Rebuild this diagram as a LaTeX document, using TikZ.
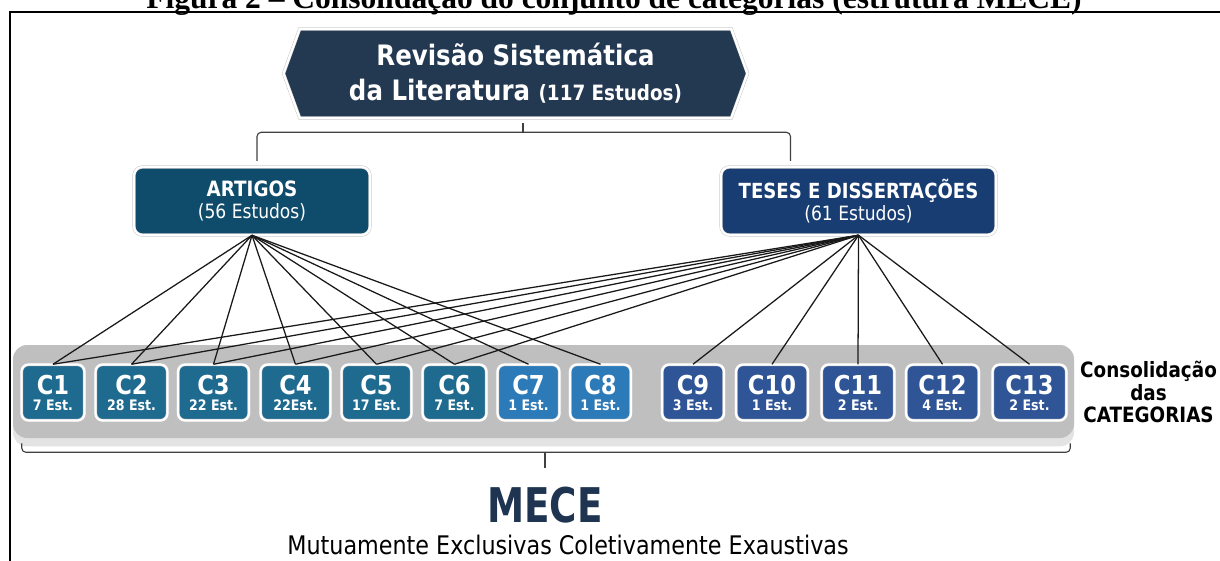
\documentclass[tikz,border=0pt]{standalone}
\usepackage{fontspec}
\setmainfont{DejaVu Sans}[FakeStretch=0.87]
\newfontfamily\mecefont{DejaVu Sans}[FakeStretch=0.78]
\newfontfamily\figfont{Liberation Serif}
\usepackage{tikz}
\usetikzlibrary{shapes.symbols}
\usetikzlibrary{shadows}
\usetikzlibrary{calc}

\definecolor{rslblue}{HTML}{233851}
\definecolor{artblue}{HTML}{0F4B6B}
\definecolor{tesblue}{HTML}{183D73}
\definecolor{cteal}{HTML}{1F6A8F}
\definecolor{clight}{HTML}{2D7AB8}
\definecolor{cblue}{HTML}{2F5596}
\definecolor{panelgray}{HTML}{BFBFBF}
\definecolor{mecenavy}{HTML}{1E3450}

\newcommand{\pix}{0.025cm}
\newcommand{\catlabel}[1]{{\fontsize{18.5}{11.4}\selectfont #1}}

\tikzset{
  boxbase/.style={draw=black!22, line width=0.35pt, double=white, double distance=1.6pt,
    text=white, align=center, inner sep=0pt,
    drop shadow={shadow xshift=0.5pt, shadow yshift=-0.8pt, opacity=0.35}},
  rslbox/.style={boxbase, shape=signal, signal to=west and east, signal pointer angle=140,
    fill=rslblue, font=\bfseries\fontsize{20}{25}\selectfont},
  groupbox/.style={boxbase, rounded corners=6pt, font=\fontsize{14}{15.6}\selectfont},
  catbox/.style={boxbase, rounded corners=5pt, minimum height=56*\pix,
    font=\bfseries\fontsize{10.3}{11.4}\selectfont},
  panel/.style={fill=panelgray, rounded corners=10pt,
    drop shadow={shadow xshift=0pt, shadow yshift=-6pt, opacity=0.22}},
  link/.style={draw=black!90, line width=0.9pt},
  brace/.style={draw=black!75, line width=0.8pt, rounded corners=3pt}
}

\begin{document}
\begin{tikzpicture}[x=\pix, y=-\pix]
  \useasboundingbox (0,0) rectangle (1220,560);
  \clip (0,0) rectangle (1220,560);
  % Frame, boxes and links:
  \node[font=\figfont\bfseries\fontsize{22.4}{24}\selectfont, anchor=base] (fig) at (614,8) {Figura 2 – Consolidação do conjunto de categorias (estrutura MECE)};
  \draw[line width=1.4pt] (10,600) -- (10,12) -- (1240,12);
  \node[panel, minimum width=1061*\pix, minimum height=93*\pix] (painel) at (543.5,391.5) {};
  \foreach \i/\cx/\w/\n/\col in {1/53/66/7 Est./cteal, 2/131.5/75/28 Est./cteal, 3/213.5/74/22 Est./cteal,
      4/295.5/73/22Est./cteal, 5/376.5/73/17 Est./cteal, 6/454.5/67/7 Est./cteal,
      7/528.5/65/1 Est./clight, 8/600.5/64/1 Est./clight, 9/693/65/3 Est./cblue,
      10/772/75/1 Est./cblue, 11/858/76/2 Est./cblue, 12/942.5/76/4 Est./cblue, 13/1029.5/77/2 Est./cblue}
    \node[catbox, fill=\col, minimum width=\w*\pix-3*\pix] (c\i) at (\cx,392.5) {\catlabel{C\i}\\\n};
  \node[rslbox, minimum width=464*\pix, minimum height=89*\pix] (rsl) at (515.5,73.5) {Revisão Sistemática\\da Literatura {\fontsize{15}{25}\selectfont(117 Estudos)}};
  \node[groupbox, fill=artblue, minimum width=236*\pix, minimum height=68*\pix] (artigos) at (252,201) {{\bfseries\fontsize{15}{15.6}\selectfont ARTIGOS}\\(56 Estudos)};
  \node[groupbox, fill=tesblue, minimum width=275*\pix, minimum height=68*\pix] (teses) at (858.5,201) {{\bfseries\fontsize{14.8}{15.6}\selectfont TESES E DISSERTAÇÕES}\\(61 Estudos)};
  \foreach \i in {1,...,8}
    \draw[link] (artigos.south) -- (c\i.north);
  \foreach \i in {1,...,6,9,10,11,12,13}
    \draw[link] (teses.south) -- (c\i.north);
  \coordinate (tmid) at ($(rsl.south)+(7.5,14)$);
  \draw[brace] ($(artigos.north)+(5,-6)$) |- (tmid);
  \draw[brace] ($(teses.north)+(-68,-6)$) |- (tmid);
  \draw[brace] (tmid) -- ++(0,-9);
  \coordinate (bmid) at ($(painel.south)+(1.5,14)$);
  \draw[brace] ($(painel.south west)+(9,5)$) |- (bmid);
  \draw[brace] ($(painel.south east)+(-4,5)$) |- (bmid);
  \draw[brace] (bmid) -- ++(0,16);
  \node[align=center, font=\bfseries\fontsize{15}{16.3}\selectfont] (consol) at (1148.5,392) {Consolidação\\das\\CATEGORIAS};
  \node[font=\mecefont\bfseries\fontsize{34}{34}\selectfont, text=mecenavy, anchor=base] (mece) at (545,522) {MECE};
  \node[font=\fontsize{18.2}{20}\selectfont, anchor=base] (mutua) at (568,554) {Mutuamente Exclusivas Coletivamente Exaustivas};
\end{tikzpicture}
\end{document}
